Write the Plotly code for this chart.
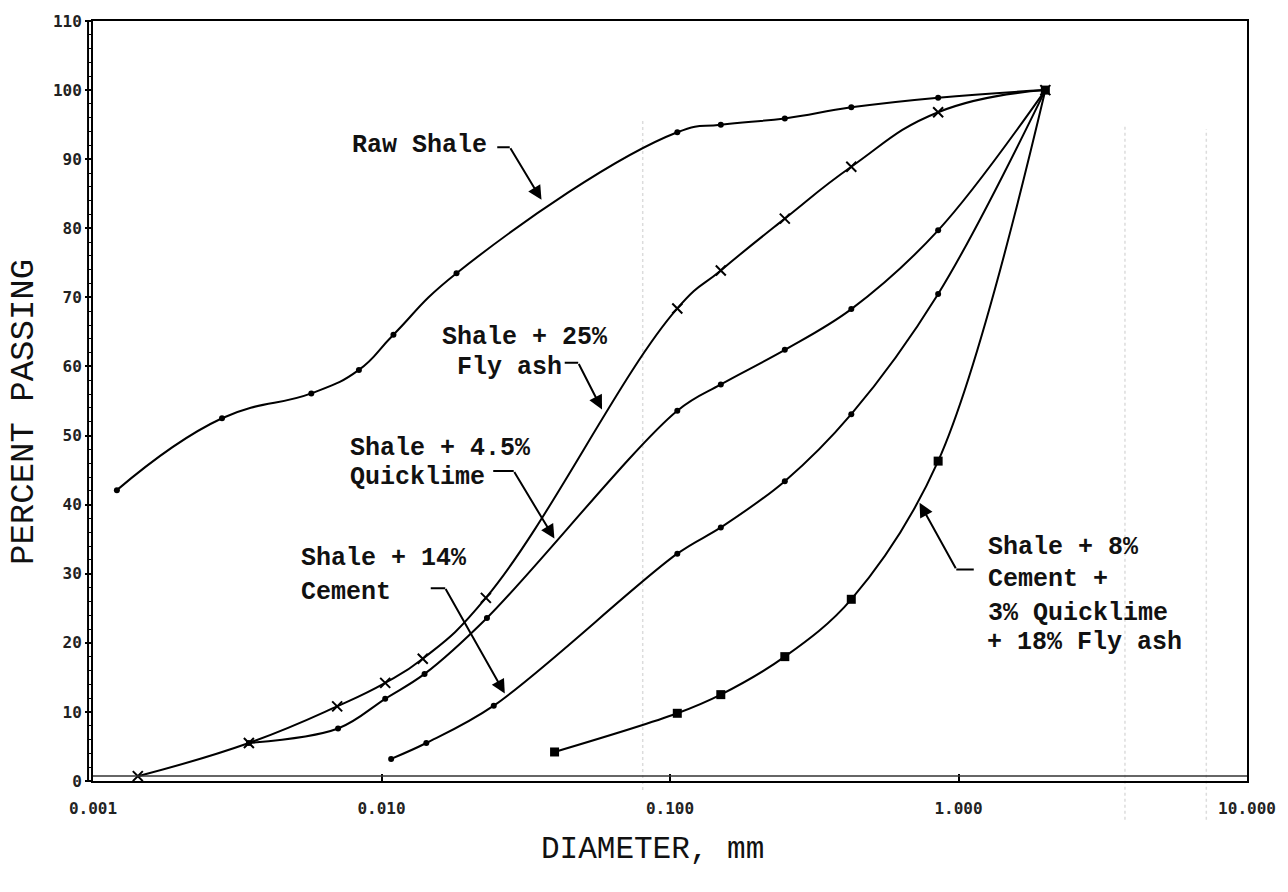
import plotly.graph_objects as go

# ---------------- data (diameter in mm, percent passing) ----------------
raw_x = [0.00121, 0.0028, 0.00571, 0.00835, 0.0110, 0.0182, 0.106, 0.15, 0.25, 0.425, 0.85, 2.0]
raw_y = [42.1, 52.5, 56.1, 59.5, 64.6, 73.5, 93.9, 95.0, 95.9, 97.5, 98.9, 100]

fly_x = [0.00143, 0.00347, 0.00702, 0.0103, 0.0139, 0.0230, 0.106, 0.15, 0.25, 0.425, 0.85, 2.0]
fly_y = [0.7, 5.5, 10.8, 14.2, 17.7, 26.5, 68.4, 73.9, 81.4, 88.9, 96.8, 100]

ql_x = [0.00347, 0.00707, 0.0103, 0.0141, 0.0232, 0.106, 0.15, 0.25, 0.425, 0.85, 2.0]
ql_y = [5.5, 7.6, 11.9, 15.5, 23.6, 53.6, 57.4, 62.4, 68.3, 79.7, 100]

cem_x = [0.0108, 0.0143, 0.0245, 0.106, 0.15, 0.25, 0.425, 0.85, 2.0]
cem_y = [3.2, 5.5, 10.9, 32.9, 36.7, 43.4, 53.1, 70.5, 100]

mix_x = [0.0398, 0.106, 0.15, 0.25, 0.425, 0.85, 2.0]
mix_y = [4.2, 9.8, 12.5, 18.0, 26.3, 46.3, 100]

x_tickvals = [0.001, 0.01, 0.1, 1, 10]
x_ticktext = ["0.001", "0.010", "0.100", "1.000", "10.000"]
y_tickvals = list(range(0, 111, 10))

# ---------------- layout helpers (pixel -> paper) ----------------
L, R, T, B = 93, 32, 16, 111
W, H = 1288, 892
PW, PH = W - L - R, H - T - B


def px(x):
    return (x - L) / PW


def py(y):
    return (H - B - y) / PH


fig = go.Figure()

series = [
    (raw_x, raw_y, dict(symbol="circle", size=6, color="black"), 1.3),
    (fly_x, fly_y, dict(symbol="x-thin", size=10, color="black", line=dict(width=2, color="black")), 1.3),
    (ql_x, ql_y, dict(symbol="circle", size=6, color="black"), 1.0),
    (cem_x, cem_y, dict(symbol="circle", size=6, color="black"), 1.0),
    (mix_x, mix_y, dict(symbol="square", size=9, color="black"), 1.0),
]
for xs, ys, mk, sm in series:
    fig.add_trace(go.Scatter(x=xs, y=ys, mode="lines+markers",
                             line=dict(color="black", width=2, shape="spline", smoothing=sm),
                             marker=mk, hoverinfo="x+y"))

ann = []
tfont = dict(family="Liberation Mono", size=25, color="#111", weight="bold")
labels = [
    ("Raw Shale", 352, 141),
    ("Shale + 25%", 443, 335),
    ("Fly ash", 458, 365),
    ("Shale + 4.5%", 350, 446),
    ("Quicklime", 350, 476),
    ("Shale + 14%", 301, 557),
    ("Cement", 301, 591),
    ("Shale + 8%", 993, 546),
    ("Cement +", 993, 578),
    ("3% Quicklime", 993, 612),
    ("+ 18% Fly ash", 992, 642),
]
for txt, lx, ly in labels:
    ann.append(dict(text=txt, x=px(lx), y=py(ly), xref="paper", yref="paper",
                    xanchor="left", yanchor="middle", showarrow=False, font=tfont))

# leader lines: (segment start, elbow, arrow head)
leaders = [
    ((499, 143), (513, 143), (545, 196)),
    ((567, 360), (582, 360), (606, 407)),
    ((495, 469), (517, 469), (558, 537)),
    ((432, 587), (448, 587), (508, 693)),
    ((982, 568), (963, 568), (926, 501)),
]
for (sx, sy), (ex, ey), (hx, hy) in leaders:
    ann.append(dict(text="", x=px(ex), y=py(ey), xref="paper", yref="paper",
                    ax=sx - ex, ay=sy - ey, showarrow=True, arrowhead=0,
                    arrowwidth=2, arrowcolor="black", standoff=0, startstandoff=0))
    ann.append(dict(text="", x=px(hx), y=py(hy), xref="paper", yref="paper",
                    ax=ex - hx, ay=ey - hy, showarrow=True, arrowhead=2, arrowsize=1.4,
                    arrowwidth=2, arrowcolor="black", standoff=0, startstandoff=0))

# axis titles
ann.append(dict(text="PERCENT PASSING", x=px(24), y=py(410), xref="paper", yref="paper",
                textangle=-90, showarrow=False, xanchor="center", yanchor="middle",
                font=dict(family="Liberation Mono", size=34, color="#111")))
ann.append(dict(text="DIAMETER, mm", x=px(657), y=py(850), xref="paper", yref="paper",
                showarrow=False, xanchor="center", yanchor="middle",
                font=dict(family="Liberation Mono", size=31, color="#111")))

tick_font = dict(family="DejaVu Sans Mono", size=16, color="#222", weight="bold")

shapes = [
    dict(type="line", xref="paper", yref="paper", x0=px(88), x1=px(88), y0=0, y1=1,
         line=dict(color="black", width=2)),
    dict(type="line", xref="paper", yref="paper", x0=0, x1=1, y0=py(776), y1=py(776),
         line=dict(color="#333", width=1.5)),
]
# faint scan guide lines visible in the original
for gx, gy0, gy1 in [(647, 115, 790), (1133, 120, 820), (1215, 125, 820)]:
    shapes.append(dict(type="line", xref="paper", yref="paper", x0=px(gx), x1=px(gx),
                       y0=py(gy1), y1=py(gy0), layer="below",
                       line=dict(color="#dcdcdc", width=1.5, dash="dot")))

fig.update_layout(
    width=W, height=H,
    margin=dict(l=L, r=R, t=T, b=B),
    paper_bgcolor="white", plot_bgcolor="white",
    showlegend=False,
    annotations=ann,
    shapes=shapes,
    xaxis=dict(type="log", range=[-3, 1], tickvals=x_tickvals, ticktext=x_ticktext,
               ticks="inside", ticklen=7, tickwidth=2, tickcolor="black",
               showgrid=False, zeroline=False, showline=True, linewidth=2,
               linecolor="black", mirror=True, tickfont=tick_font, ticklabelstandoff=12),
    yaxis=dict(range=[0, 110], tickvals=y_tickvals, ticks="outside", ticklen=6,
               tickwidth=1.5, tickcolor="black",
               minor=dict(ticks="outside", ticklen=3, dtick=2, tickcolor="black", tickwidth=1),
               showgrid=False, zeroline=False, showline=True, linewidth=2,
               linecolor="black", mirror=True, tickfont=tick_font),
)

fig.write_html("out.html")
